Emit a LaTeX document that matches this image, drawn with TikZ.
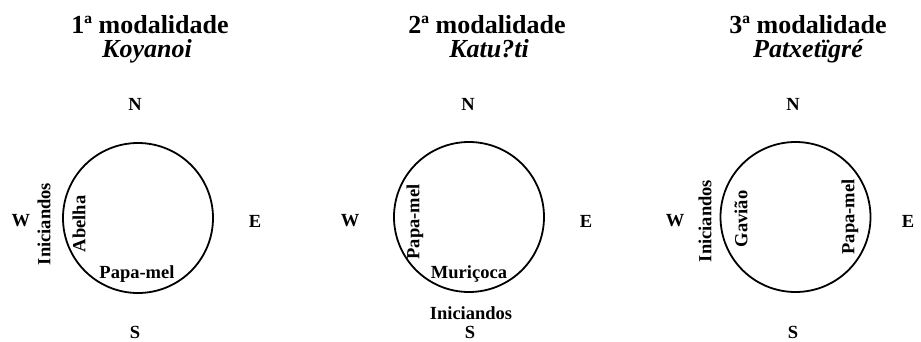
\documentclass[tikz,border=0pt]{standalone}
\usepackage{fontspec}
\setmainfont{Liberation Serif}
\begin{document}
\begin{tikzpicture}[x=1pt,y=-1pt,
  ttl/.style={font=\bfseries\fontsize{26}{28}\selectfont,anchor=base,inner sep=0pt},
  sub/.style={font=\bfseries\itshape\fontsize{26}{28}\selectfont,anchor=base,inner sep=0pt},
  dir/.style={font=\bfseries\fontsize{18.5}{20}\selectfont,inner sep=0pt},
  lab/.style={font=\bfseries\fontsize{18.5}{20}\selectfont,inner sep=0pt},
  vlab/.style={lab,rotate=90},
  ring/.style={draw=black,line width=1.8pt,circle,minimum size=150pt,inner sep=0pt}]
\useasboundingbox (0,0) rectangle (921,341);
% Panel 1
\node[ttl] (t1) at (150,33.5) {1ª modalidade};
\node[sub] (s1) at (147,57) {Koyanoi};
\node[dir] (n1) at (135,104.5) {N};
\node[dir] (w1) at (21,221) {W};
\node[dir] (e1) at (255,221) {E};
\node[dir] (so1) at (135,332) {S};
\node[ring] (c1) at (138,218) {};
\node[vlab] (i1) at (44,224) {Iniciandos};
\node[vlab] (a1) at (79,224) {Abelha};
\node[lab] (p1) at (137,274) {Papa-mel};
% Panel 2
\node[ttl] (t2) at (487,33.5) {2ª modalidade};
\node[sub] (s2) at (489,57) {Katu?ti};
\node[dir] (n2) at (468,104.5) {N};
\node[dir] (w2) at (350,221) {W};
\node[dir] (e2) at (586,221) {E};
\node[dir] (so2) at (470,332) {S};
\node[ring] (c2) at (469,217) {};
\node[vlab] (p2) at (415,222) {Papa-mel};
\node[lab] (m2) at (469,274) {Muriçoca};
\node[lab] (i2) at (471,313) {Iniciandos};
% Panel 3
\node[ttl] (t3) at (808,33.5) {3ª modalidade};
\node[sub] (s3) at (808,57) {Patxetïgré};
\node[dir] (n3) at (793,104.5) {N};
\node[dir] (w3) at (675,221) {W};
\node[dir] (e3) at (908,221) {E};
\node[dir] (so3) at (793,332) {S};
\node[ring] (c3) at (795.5,217) {};
\node[vlab] (i3) at (705,221) {Iniciandos};
\node[vlab] (g3) at (741,219) {Gavião};
\node[vlab] (p3) at (850,217) {Papa-mel};
\end{tikzpicture}
\end{document}
